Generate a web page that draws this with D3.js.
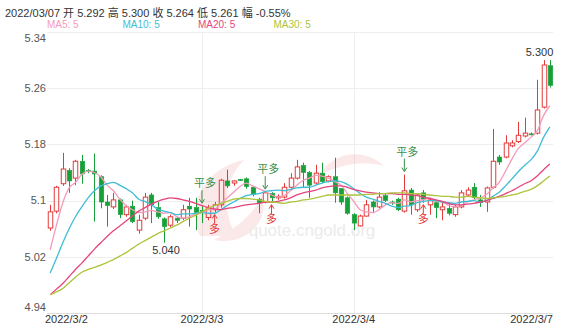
<!DOCTYPE html>
<html>
<head>
<meta charset="utf-8">
<script src="https://cdn.jsdelivr.net/npm/d3@7"></script>
<style>
  body { margin: 0; background: #fff; }
  svg { display: block; font-family: "Liberation Sans", "Noto Sans CJK SC", sans-serif; }
</style>
</head>
<body>
<div id="chart"></div>
<script>
// hourly candles, 2022/3/2 .. 2022/3/7
const opens = [5.061,5.085,5.124,5.143,5.132,5.156,5.143,5.142,5.134,5.098,5.091,5.101,5.080,5.092,5.058,5.075,5.108,5.090,5.074,5.065,
  5.075,5.075,5.092,5.090,5.086,5.076,5.087,5.094,5.128,5.125,5.130,5.131,5.119,5.102,5.098,5.110,5.104,5.105,5.119,5.132,
  5.150,5.140,5.125,5.139,5.128,5.134,5.117,5.104,5.080,5.064,5.078,5.098,5.091,5.107,5.098,5.102,5.085,5.115,5.087,5.111,
  5.094,5.097,5.087,5.089,5.080,5.091,5.108,5.119,5.101,5.098,5.119,5.162,5.162,5.178,5.184,5.192,5.195,5.196,5.233,5.292];
const highs = [5.094,5.121,5.168,5.146,5.158,5.165,5.145,5.167,5.136,5.108,5.111,5.103,5.094,5.100,5.080,5.111,5.111,5.098,5.076,5.080,
  5.077,5.094,5.104,5.104,5.092,5.094,5.098,5.131,5.144,5.129,5.131,5.133,5.121,5.104,5.112,5.112,5.109,5.125,5.139,5.158,
  5.154,5.142,5.151,5.154,5.136,5.161,5.118,5.106,5.082,5.080,5.101,5.100,5.112,5.110,5.100,5.104,5.137,5.118,5.110,5.115,
  5.104,5.100,5.098,5.096,5.094,5.115,5.119,5.125,5.108,5.120,5.202,5.165,5.193,5.186,5.212,5.218,5.197,5.272,5.300,5.300];
const lows = [5.057,5.082,5.121,5.111,5.122,5.124,5.139,5.070,5.089,5.063,5.088,5.075,5.077,5.068,5.053,5.072,5.068,5.074,5.040,5.062,
  5.068,5.072,5.063,5.058,5.068,5.072,5.083,5.090,5.118,5.121,5.128,5.117,5.106,5.082,5.096,5.097,5.101,5.103,5.117,5.130,
  5.119,5.104,5.123,5.125,5.126,5.097,5.094,5.080,5.058,5.063,5.077,5.082,5.089,5.098,5.094,5.085,5.083,5.080,5.084,5.097,
  5.080,5.075,5.072,5.079,5.077,5.089,5.106,5.102,5.091,5.084,5.117,5.151,5.160,5.176,5.182,5.190,5.193,5.194,5.231,5.261];
const closes = [5.084,5.119,5.145,5.128,5.156,5.138,5.142,5.138,5.098,5.093,5.101,5.080,5.091,5.070,5.072,5.105,5.094,5.077,5.063,5.077,
  5.072,5.087,5.088,5.083,5.085,5.090,5.094,5.129,5.121,5.128,5.129,5.120,5.109,5.097,5.111,5.104,5.106,5.119,5.132,5.148,
  5.140,5.122,5.139,5.127,5.134,5.111,5.098,5.082,5.068,5.078,5.094,5.091,5.105,5.100,5.097,5.087,5.114,5.094,5.108,5.102,
  5.101,5.090,5.091,5.082,5.091,5.111,5.115,5.104,5.097,5.118,5.156,5.155,5.182,5.182,5.193,5.196,5.195,5.229,5.293,5.264];

// moving averages
const ma5 = [5.030,5.065,5.097,5.118,5.126,5.137,5.142,5.140,5.134,5.122,5.114,5.102,5.093,5.087,5.083,5.084,5.086,5.084,5.082,5.083,
  5.077,5.075,5.077,5.081,5.083,5.087,5.088,5.096,5.104,5.112,5.120,5.125,5.121,5.117,5.113,5.108,5.105,5.107,5.114,5.122,
  5.129,5.132,5.136,5.135,5.132,5.127,5.122,5.110,5.099,5.087,5.084,5.083,5.087,5.094,5.097,5.096,5.101,5.098,5.100,5.101,
  5.104,5.099,5.098,5.093,5.091,5.093,5.098,5.101,5.104,5.109,5.118,5.126,5.142,5.159,5.174,5.182,5.190,5.199,5.221,5.235];
const ma10 = [4.997,5.018,5.040,5.060,5.077,5.091,5.104,5.114,5.121,5.124,5.126,5.122,5.117,5.111,5.102,5.099,5.094,5.088,5.085,5.083,
  5.080,5.081,5.081,5.082,5.083,5.082,5.082,5.087,5.093,5.098,5.103,5.107,5.109,5.110,5.113,5.114,5.115,5.114,5.116,5.118,
  5.119,5.119,5.122,5.125,5.127,5.128,5.127,5.123,5.117,5.110,5.105,5.102,5.099,5.096,5.092,5.090,5.092,5.093,5.097,5.099,
  5.100,5.100,5.098,5.097,5.096,5.098,5.099,5.100,5.098,5.100,5.106,5.112,5.121,5.131,5.141,5.150,5.158,5.170,5.190,5.205];
const ma20 = [4.966,4.974,4.982,4.992,5.002,5.011,5.021,5.031,5.040,5.049,5.057,5.064,5.071,5.078,5.085,5.090,5.095,5.099,5.102,5.104,
  5.103,5.101,5.099,5.096,5.093,5.090,5.088,5.087,5.089,5.090,5.092,5.094,5.095,5.096,5.098,5.098,5.099,5.101,5.104,5.108,
  5.111,5.113,5.115,5.118,5.120,5.121,5.121,5.119,5.116,5.114,5.112,5.111,5.110,5.110,5.110,5.109,5.109,5.108,5.107,5.105,
  5.103,5.101,5.099,5.096,5.094,5.094,5.095,5.096,5.098,5.100,5.103,5.106,5.110,5.114,5.119,5.124,5.128,5.135,5.144,5.152];
const ma30 = [4.966,4.970,4.975,4.983,4.991,4.998,5.002,5.005,5.008,5.012,5.016,5.021,5.026,5.032,5.038,5.043,5.048,5.053,5.057,5.061,
  5.065,5.070,5.075,5.079,5.084,5.089,5.093,5.096,5.099,5.102,5.103,5.103,5.102,5.101,5.099,5.098,5.097,5.096,5.098,5.099,
  5.101,5.102,5.104,5.106,5.108,5.108,5.108,5.108,5.108,5.108,5.109,5.109,5.110,5.110,5.111,5.111,5.111,5.110,5.110,5.109,
  5.108,5.107,5.106,5.106,5.105,5.105,5.106,5.105,5.104,5.103,5.104,5.105,5.106,5.108,5.110,5.113,5.116,5.121,5.128,5.135];

const dayLabels = ["2022/3/2", "2022/3/3", "2022/3/4", "2022/3/7"];
const dayLabelIndex = [0, 24, 48, 79];
const yTicks = [4.94, 5.02, 5.1, 5.18, 5.26, 5.34];
const closeLongSignals = [24, 34, 56];   // 平多
const longSignals = [26, 35, 59];        // 多
const header = "2022/03/07 开 5.292 高 5.300 收 5.264 低 5.261 幅 -0.55%";
const maNames = ["MA5: 5", "MA10: 5", "MA20: 5", "MA30: 5"];
const maColors = ["#f39bbb", "#3fbdd6", "#e4457e", "#adc43c"];

const width = 561, height = 326;
const mLeft = 47, mRight = 553, mTop = 32, mBottom = 313;
const up = "#e33b3b", down = "#17a03a";

const svg = d3.select("#chart").append("svg")
  .attr("width", width).attr("height", height);

const idx = d3.range(closes.length);
const x = d3.scaleBand().domain(idx).range([mLeft, mRight]);
const cx = i => x(i) + x.bandwidth() / 2;
const y = d3.scaleLinear().domain([4.94, 5.34]).range([mBottom, mTop]);

// grid
svg.append("g").selectAll("line").data(yTicks).join("line")
  .attr("x1", mLeft).attr("x2", mRight)
  .attr("y1", d => Math.round(y(d)) + 0.5).attr("y2", d => Math.round(y(d)) + 0.5)
  .attr("stroke", d => d === 4.94 ? "#ddd" : "#eee");
svg.append("g").selectAll("line").data(dayLabelIndex.slice(1, 3)).join("line")
  .attr("x1", d => Math.round(cx(d)) + 0.5).attr("x2", d => Math.round(cx(d)) + 0.5)
  .attr("y1", mTop).attr("y2", mBottom)
  .attr("stroke", "#eee");

// watermark
const wm = svg.append("g").attr("opacity", 0.1);
wm.append("path").attr("d", "M200,236 C186,206 204,168 244,160 C226,178 220,206 236,236 Z").attr("fill", "#e03030");
wm.append("path").attr("d", "M214,240 C246,246 270,222 262,196 C254,214 236,228 214,240 Z").attr("fill", "#e03030");
wm.append("path").attr("d", "M318,176 C334,150 366,148 384,166 C364,160 340,164 318,176 Z").attr("fill", "#e03030");
svg.append("text").attr("x", 312).attr("y", 236).attr("text-anchor", "middle")
  .attr("font-size", 17).attr("fill", "#ebebeb").text("quote.cngold.org");

// y axis labels
svg.append("g").selectAll("text").data(yTicks).join("text")
  .attr("x", mLeft - 1).attr("text-anchor", "end")
  .attr("y", d => y(d))
  .attr("dy", d => d === 5.34 ? "0.95em" : d === 4.94 ? "-0.15em" : "0.35em")
  .attr("font-size", 11).attr("fill", "#555").text(d => d);

// x axis labels
svg.append("g").selectAll("text").data(dayLabels).join("text")
  .attr("x", (d, k) => k === 0 ? mLeft - 2 : k === dayLabels.length - 1 ? mRight : cx(dayLabelIndex[k]))
  .attr("text-anchor", (d, k) => k === 0 ? "start" : k === dayLabels.length - 1 ? "end" : "middle")
  .attr("y", 323).attr("font-size", 11).attr("fill", "#333").text(d => d);

// candles
const candles = svg.append("g").selectAll("g").data(idx).join("g");
const bw = 4.5;
candles.each(function (i) {
  const g = d3.select(this);
  const rise = closes[i] > opens[i];
  const col = rise ? up : down;
  const xc = Math.round(cx(i)) + 0.5;
  const yTop = y(Math.max(opens[i], closes[i]));
  const yBot = y(Math.min(opens[i], closes[i]));
  g.append("line").attr("x1", xc).attr("x2", xc).attr("y1", y(highs[i])).attr("y2", yTop).attr("stroke", col);
  g.append("line").attr("x1", xc).attr("x2", xc).attr("y1", yBot).attr("y2", y(lows[i])).attr("stroke", col);
  g.append("rect")
    .attr("x", xc - bw / 2).attr("width", bw)
    .attr("y", yTop).attr("height", Math.max(yBot - yTop, 1))
    .attr("fill", rise ? "none" : col)
    .attr("stroke", col).attr("stroke-width", rise ? 1 : 0.6);
});

// moving averages
const line = d3.line().x((d, i) => cx(i)).y(d => y(d)).curve(d3.curveMonotoneX);
[ma5, ma10, ma20, ma30].forEach((s, k) => {
  svg.append("path").datum(s).attr("d", line)
    .attr("fill", "none").attr("stroke", maColors[k]).attr("stroke-width", 1.3);
});

// trade signals
closeLongSignals.forEach(i => {
  const xc = cx(i), yh = y(highs[i]);
  svg.append("line").attr("x1", xc).attr("x2", xc).attr("y1", yh - 16).attr("y2", yh - 4).attr("stroke", "#3a8f4a");
  svg.append("path").attr("d", `M${xc - 2.5},${yh - 7} L${xc},${yh - 3} L${xc + 2.5},${yh - 7}`)
    .attr("fill", "none").attr("stroke", "#3a8f4a");
  svg.append("text").attr("x", xc + 3).attr("y", yh - 19).attr("text-anchor", "middle")
    .attr("font-size", 11).attr("fill", "#3a8f4a").text("平多");
});
longSignals.forEach(i => {
  const xc = cx(i), yl = y(lows[i]);
  svg.append("line").attr("x1", xc).attr("x2", xc).attr("y1", yl + 2).attr("y2", yl + 11).attr("stroke", up);
  svg.append("path").attr("d", `M${xc - 2.5},${yl + 6} L${xc},${yl + 2} L${xc + 2.5},${yl + 6}`)
    .attr("fill", "none").attr("stroke", up);
  svg.append("text").attr("x", xc).attr("y", yl + 20).attr("text-anchor", "middle")
    .attr("font-size", 11).attr("fill", up).text("多");
});

// extreme labels
const iMin = d3.minIndex(lows), iMax = d3.maxIndex(highs);
svg.append("text").attr("x", cx(iMin) + 2).attr("y", y(lows[iMin]) + 11).attr("text-anchor", "middle")
  .attr("font-size", 11).attr("fill", "#333").text(lows[iMin].toFixed(3));
svg.append("text").attr("x", cx(iMax) - 4).attr("y", y(highs[iMax]) - 4).attr("text-anchor", "middle")
  .attr("font-size", 11).attr("fill", "#333").text(highs[iMax].toFixed(3));

// header
svg.append("text").attr("x", 5).attr("y", 17).attr("font-size", 11).attr("fill", "#333")
  .style("white-space", "pre").text(header);
svg.append("g").selectAll("text").data(maNames).join("text")
  .attr("x", (d, k) => 47 + k * 75.5).attr("y", 28)
  .attr("font-size", 10).attr("fill", (d, k) => maColors[k]).text(d => d);
</script>
</body>
</html>
